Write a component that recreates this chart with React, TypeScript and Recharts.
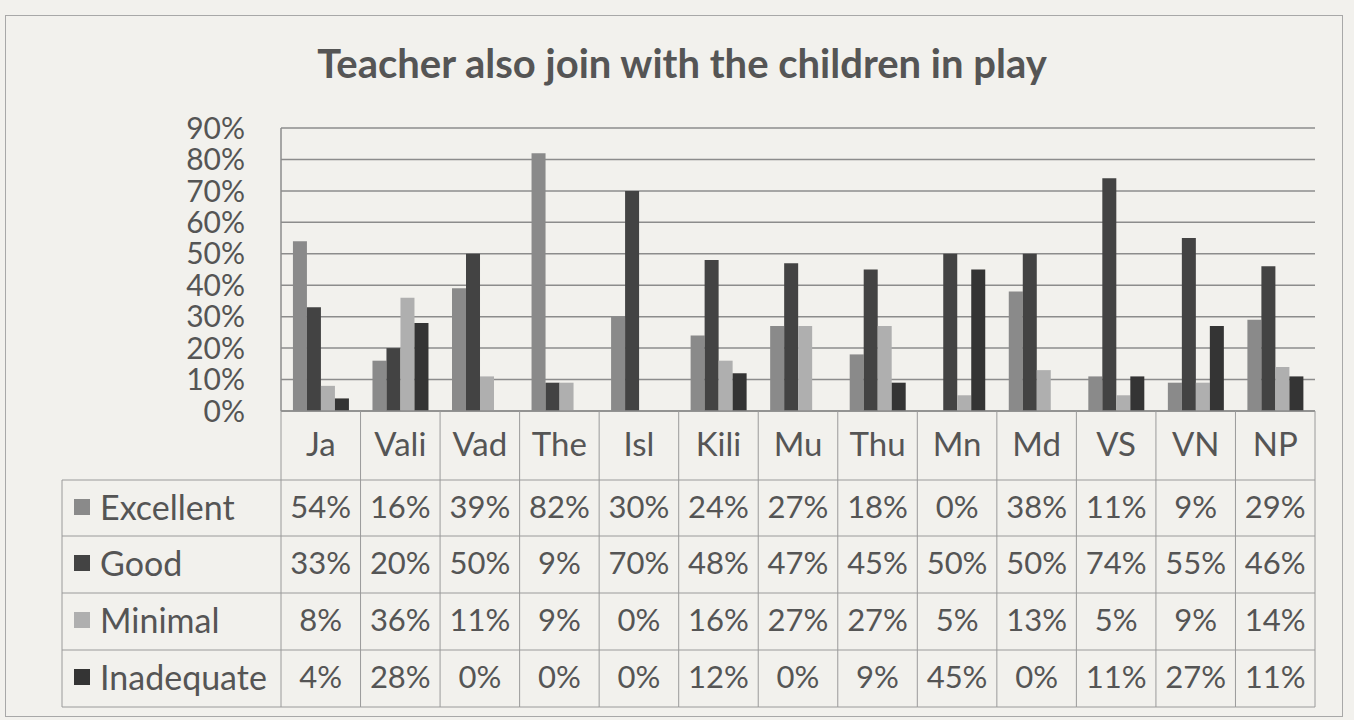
import { Bar, BarChart, CartesianGrid, XAxis, YAxis } from "recharts";

const categories = ["Ja", "Vali", "Vad", "The", "Isl", "Kili", "Mu", "Thu", "Mn", "Md", "VS", "VN", "NP"];
const excellent = [54, 16, 39, 82, 30, 24, 27, 18, 0, 38, 11, 9, 29];
const good = [33, 20, 50, 9, 70, 48, 47, 45, 50, 50, 74, 55, 46];
const minimal = [8, 36, 11, 9, 0, 16, 27, 27, 5, 13, 5, 9, 14];
const inadequate = [4, 28, 0, 0, 0, 12, 0, 9, 45, 0, 11, 27, 11];
const yTicks = [0, 10, 20, 30, 40, 50, 60, 70, 80, 90];

const seriesNames = ["Excellent", "Good", "Minimal", "Inadequate"];
const seriesColors = ["#8a8a8a", "#434343", "#afafaf", "#343434"];
const seriesValues = [excellent, good, minimal, inadequate];

const W = 1354;
const H = 720;
const PLOT_LEFT = 281;
const PLOT_RIGHT = 1315;
const PLOT_TOP = 128;
const AXIS_Y = 411;
const BAND = (PLOT_RIGHT - PLOT_LEFT) / categories.length;
const ROW_TOPS = [480, 536, 593, 650];
const TABLE_BOTTOM = 707;
const LEGEND_LEFT = 62;
const FONT = "Lato, 'Open Sans', sans-serif";
const TEXT = "#555555";
const LINE = "#9a9a9a";

const data = categories.map((name, i) => ({
  name,
  Excellent: excellent[i],
  Good: good[i],
  Minimal: minimal[i],
  Inadequate: inadequate[i],
}));

function TableColumn(props: any) {
  const { x, payload, index } = props;
  const left = x - BAND / 2;
  const right = x + BAND / 2;
  return (
    <g>
      <line x1={right} x2={right} y1={AXIS_Y} y2={TABLE_BOTTOM} stroke={LINE} strokeWidth={1} />
      {index === 0 && (
        <line x1={left} x2={left} y1={AXIS_Y} y2={TABLE_BOTTOM} stroke={LINE} strokeWidth={1} />
      )}
      <text x={x} y={443} textAnchor="middle" dominantBaseline="central" fontSize={33} fill={TEXT} fontFamily={FONT}>
        {payload.value}
      </text>
      {ROW_TOPS.map((top, r) => (
        <g key={r}>
          <line x1={left} x2={right} y1={top} y2={top} stroke={LINE} strokeWidth={1} />
          <text x={x} y={top + 26} textAnchor="middle" dominantBaseline="central" fontSize={31} fill={TEXT} fontFamily={FONT}>
            {seriesValues[r][index] + "%"}
          </text>
        </g>
      ))}
      <line x1={left} x2={right} y1={TABLE_BOTTOM} y2={TABLE_BOTTOM} stroke={LINE} strokeWidth={1} />
      {index === 0 && (
        <g>
          <line x1={LEGEND_LEFT} x2={LEGEND_LEFT} y1={ROW_TOPS[0]} y2={TABLE_BOTTOM} stroke={LINE} strokeWidth={1} />
          <line x1={LEGEND_LEFT} x2={left} y1={TABLE_BOTTOM} y2={TABLE_BOTTOM} stroke={LINE} strokeWidth={1} />
          {ROW_TOPS.map((top, r) => (
            <g key={r}>
              <line x1={LEGEND_LEFT} x2={left} y1={top} y2={top} stroke={LINE} strokeWidth={1} />
              <rect x={LEGEND_LEFT + 12} y={top + 19} width={16} height={16} fill={seriesColors[r]} />
              <text x={LEGEND_LEFT + 38} y={top + 26} dominantBaseline="central" fontSize={34} fill={TEXT} fontFamily={FONT}>
                {seriesNames[r]}
              </text>
            </g>
          ))}
        </g>
      )}
    </g>
  );
}

export default function App() {
  return (
    <div style={{ position: "absolute", left: 0, top: 0, width: W, height: H, background: "#f2f1ed", overflow: "hidden" }}>
      <div
        style={{
          position: "absolute",
          left: 5,
          top: 15,
          width: 1336,
          height: 700,
          border: "1.5px solid #a8a8a8",
        }}
      />
      <div
        style={{
          position: "absolute",
          left: 5,
          top: 40,
          width: W,
          textAlign: "center",
          fontFamily: FONT,
          fontWeight: 700,
          fontSize: 40,
          color: "#555555",
          lineHeight: "46px",
        }}
      >
        Teacher also join with the children in play
      </div>
      <div style={{ position: "absolute", left: 0, top: 0 }}>
        <BarChart
          width={W}
          height={H}
          data={data}
          margin={{ top: PLOT_TOP, right: W - PLOT_RIGHT, bottom: 0, left: 0 }}
          barCategoryGap="15%"
          barGap={0}
        >
          <CartesianGrid vertical={false} stroke="#8c8c8c" strokeWidth={1.5} />
          <YAxis
            width={PLOT_LEFT}
            domain={[0, 90]}
            ticks={yTicks}
            interval={0}
            tickFormatter={(v) => v + "%"}
            tickSize={0}
            tickMargin={36}
            axisLine={{ stroke: "#8c8c8c", strokeWidth: 1.5 }}
            tick={{ fontSize: 30, fill: TEXT, fontFamily: FONT }}
          />
          <XAxis
            dataKey="name"
            height={H - AXIS_Y}
            interval={0}
            tickLine={false}
            axisLine={{ stroke: "#8c8c8c", strokeWidth: 1.5 }}
            tick={(p: any) => <TableColumn {...p} />}
          />
          {seriesNames.map((name, i) => (
            <Bar key={name} dataKey={name} fill={seriesColors[i]} isAnimationActive={false} />
          ))}
        </BarChart>
      </div>
    </div>
  );
}
